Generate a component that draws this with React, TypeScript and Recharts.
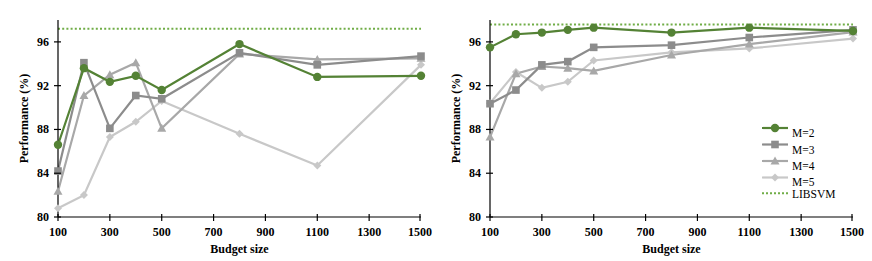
import React from 'react';
import { LineChart, Line, XAxis, YAxis, ReferenceLine } from 'recharts';

const budgets = [100, 200, 300, 400, 500, 800, 1100, 1500];
const xTicks = [100, 300, 500, 700, 900, 1100, 1300, 1500];
const yTicks = [80, 84, 88, 92, 96];

const leftM2 = [86.6, 93.6, 92.35, 92.9, 91.6, 95.8, 92.8, 92.9];
const leftM3 = [84.2, 94.1, 88.1, 91.1, 90.8, 95.0, 93.9, 94.7];
const leftM4 = [82.35, 91.1, 93.0, 94.1, 88.1, 94.9, 94.4, 94.5];
const leftM5 = [80.8, 82.0, 87.3, 88.7, 90.6, 87.6, 84.7, 93.9];
const leftLibsvm = 97.2;

const rightM2 = [95.5, 96.7, 96.85, 97.1, 97.3, 96.85, 97.3, 97.0];
const rightM3 = [90.35, 91.6, 93.9, 94.2, 95.5, 95.7, 96.4, 97.1];
const rightM4 = [87.3, 93.1, 93.75, 93.6, 93.35, 94.8, 95.8, 96.9];
const rightM5 = [90.4, 93.25, 91.8, 92.35, 94.3, 95.05, 95.4, 96.3];
const rightLibsvm = 97.6;

const series = [
  { key: 'm2', name: 'M=2', color: '#548235', shape: 'circle' },
  { key: 'm3', name: 'M=3', color: '#8c8c8c', shape: 'square' },
  { key: 'm4', name: 'M=4', color: '#a8a8a8', shape: 'triangle' },
  { key: 'm5', name: 'M=5', color: '#c8c8c8', shape: 'diamond' },
];
const libsvmColor = '#70ad47';
const font = '"Liberation Serif", "Times New Roman", serif';

function buildRows(m2: number[], m3: number[], m4: number[], m5: number[]) {
  return budgets.map((b, i) => ({ budget: b, m2: m2[i], m3: m3[i], m4: m4[i], m5: m5[i] }));
}

function Marker({ cx, cy, shape, color }: any) {
  if (cx == null || cy == null) return null;
  if (shape === 'circle') return <circle cx={cx} cy={cy} r={4.2} fill={color} />;
  if (shape === 'square') return <rect x={cx - 3.8} y={cy - 3.8} width={7.6} height={7.6} fill={color} />;
  if (shape === 'triangle')
    return <polygon points={`${cx},${cy - 4.5} ${cx + 4.5},${cy + 3.5} ${cx - 4.5},${cy + 3.5}`} fill={color} />;
  return <polygon points={`${cx},${cy - 4} ${cx + 4},${cy} ${cx},${cy + 4} ${cx - 4},${cy}`} fill={color} />;
}

// recharts hands the tick 8px away from the axis (tickSize 6 + tickMargin 2)
function XTick({ x, y, payload }: any) {
  const ay = y - 8;
  return (
    <g>
      <line x1={x} x2={x} y1={ay - 3} y2={ay + 4} stroke="#000" strokeWidth={1.2} />
      <text x={x} y={ay + 15} textAnchor="middle" dominantBaseline="central" fontFamily={font} fontWeight="bold" fontSize={12} fill="#000">
        {payload.value}
      </text>
    </g>
  );
}

function YTick({ x, y, payload }: any) {
  const ax = x + 8;
  return (
    <g>
      <line x1={ax - 4} x2={ax + 3} y1={y} y2={y} stroke="#000" strokeWidth={1.2} />
      <text x={ax - 9} y={y} textAnchor="end" dominantBaseline="central" fontFamily={font} fontWeight="bold" fontSize={12} fill="#000">
        {payload.value}
      </text>
    </g>
  );
}

function YLabel({ viewBox }: any) {
  const cx = 24;
  const cy = viewBox.y + viewBox.height / 2;
  return (
    <text x={cx} y={cy} transform={`rotate(-90, ${cx}, ${cy})`} textAnchor="middle" dominantBaseline="central"
      fontFamily={font} fontWeight="bold" fontSize={12} fill="#000">
      Performance (%)
    </text>
  );
}

function Panel({ data, libsvm }: { data: any[]; libsvm: number }) {
  return (
    <LineChart width={436} height={261} data={data} margin={{ top: 20, right: 15, left: 0, bottom: 0 }}>
      <XAxis dataKey="budget" type="number" domain={[100, 1500]} ticks={xTicks} height={44}
        tick={<XTick />} tickLine={false} axisLine={{ stroke: '#000', strokeWidth: 1.2 }}
        label={{ value: 'Budget size', position: 'insideBottom', offset: 8, fontFamily: font, fontWeight: 'bold', fontSize: 12, fill: '#000' }} />
      <XAxis xAxisId="top" orientation="top" dataKey="budget" type="number" domain={[100, 1500]} height={0}
        tick={false} tickLine={false} axisLine={{ stroke: '#333', strokeWidth: 1.2 }} />
      <YAxis type="number" domain={[80, 98]} ticks={yTicks} width={58} tick={<YTick />} tickLine={false}
        axisLine={{ stroke: '#000', strokeWidth: 1.2 }} label={<YLabel />} />
      <YAxis yAxisId="right" orientation="right" domain={[80, 98]} width={0} tick={false} tickLine={false}
        axisLine={{ stroke: '#333', strokeWidth: 1.2 }} />
      <ReferenceLine y={libsvm} stroke={libsvmColor} strokeWidth={2} strokeDasharray="2 2.2" />
      {[...series].reverse().map((s) => (
        <Line key={s.key} dataKey={s.key} stroke={s.color} strokeWidth={2.2} isAnimationActive={false}
          dot={(p: any) => <Marker key={`${s.key}-${p.index}`} cx={p.cx} cy={p.cy} shape={s.shape} color={s.color} />}
          activeDot={false} />
      ))}
    </LineChart>
  );
}

function Legend() {
  const lineY = [128, 144.5, 161, 177.5];
  const textY = [133, 149.5, 166, 182];
  return (
    <svg width={120} height={90} style={{ position: 'absolute', left: 755, top: 118 }}>
      {series.map((s, i) => (
        <g key={s.key}>
          <line x1={7} x2={33} y1={lineY[i] - 118} y2={lineY[i] - 118} stroke={s.color} strokeWidth={2.2} />
          <Marker cx={20} cy={lineY[i] - 118} shape={s.shape} color={s.color} />
          <text x={37} y={textY[i] - 118} dominantBaseline="central" fontFamily={font} fontSize={11.5} fill="#000">{s.name}</text>
        </g>
      ))}
      <line x1={7} x2={33} y1={193.3 - 118} y2={193.3 - 118} stroke={libsvmColor} strokeWidth={2} strokeDasharray="2 2" />
      <text x={37} y={194 - 118} dominantBaseline="central" fontFamily={font} fontSize={11.5} fill="#000">LIBSVM</text>
    </svg>
  );
}

export default function App() {
  const left = buildRows(leftM2, leftM3, leftM4, leftM5);
  const right = buildRows(rightM2, rightM3, rightM4, rightM5);
  return (
    <div style={{ position: 'absolute', left: 0, top: 0, width: 872, height: 261, background: '#fff' }}>
      <div style={{ position: 'absolute', left: 0, top: 0 }}>
        <Panel data={left} libsvm={leftLibsvm} />
      </div>
      <div style={{ position: 'absolute', left: 432, top: 0 }}>
        <Panel data={right} libsvm={rightLibsvm} />
      </div>
      <Legend />
    </div>
  );
}
